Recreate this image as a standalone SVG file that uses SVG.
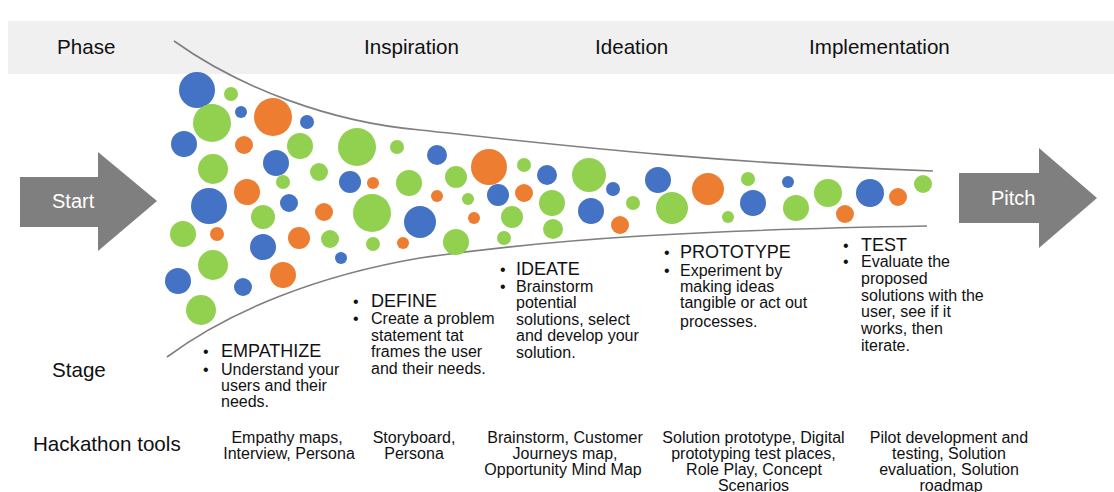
<svg xmlns="http://www.w3.org/2000/svg" width="1114" height="492" viewBox="0 0 1114 492">
<style>
.lbl{font-family:"Liberation Sans",Arial,sans-serif;font-size:20.6px;fill:#111}
.arrowtxt{font-family:"Liberation Sans",Arial,sans-serif;font-size:20px;fill:#ffffff}
.hd{font-family:"Liberation Sans",Arial,sans-serif;font-size:18px;fill:#111}
.bd{font-family:"Liberation Sans",Arial,sans-serif;font-size:16px;fill:#111}
.tool{font-family:"Liberation Sans",Arial,sans-serif;font-size:16px;fill:#111;text-anchor:middle}
.b{fill:#4472c4}.o{fill:#ed7d31}.g{fill:#92d050}
.curve{fill:none;stroke:#7f7f7f;stroke-width:1.6}
.arr{fill:#7f7f7f}
</style>
<rect width="1114" height="492" fill="#ffffff"/>
<g id="phase-band">
<rect x="8" y="21" width="1106" height="53" fill="#f0f0f0"/>
<text class="lbl" x="57" y="54">Phase</text>
<text class="lbl" x="364" y="54">Inspiration</text>
<text class="lbl" x="595" y="54">Ideation</text>
<text class="lbl" x="809" y="54">Implementation</text>
</g>
<g id="funnel">
<path class="curve" d="M174,41 C240,88 330,122 420,130 C560,145 700,162 933,171"/>
<path class="curve" d="M167,357 C230,310 320,275 420,258 C560,238 700,230 927,226"/>
</g>
<g id="circles">
<circle class="b" cx="197" cy="90" r="18"/>
<circle class="g" cx="231" cy="94" r="7"/>
<circle class="g" cx="212" cy="123" r="19"/>
<circle class="b" cx="241" cy="112" r="6"/>
<circle class="o" cx="273" cy="117" r="19"/>
<circle class="b" cx="307" cy="122" r="7"/>
<circle class="b" cx="184" cy="144" r="13"/>
<circle class="o" cx="244" cy="145" r="9"/>
<circle class="g" cx="300" cy="146" r="13"/>
<circle class="g" cx="357" cy="147" r="19"/>
<circle class="g" cx="397" cy="147" r="7"/>
<circle class="g" cx="213" cy="169" r="15"/>
<circle class="b" cx="276" cy="163" r="13"/>
<circle class="g" cx="319" cy="172" r="9"/>
<circle class="g" cx="283" cy="182" r="7"/>
<circle class="b" cx="350" cy="182" r="11"/>
<circle class="o" cx="373" cy="183" r="6"/>
<circle class="g" cx="409" cy="183" r="13"/>
<circle class="b" cx="209" cy="206" r="18"/>
<circle class="o" cx="247" cy="192" r="13"/>
<circle class="b" cx="289" cy="203" r="9"/>
<circle class="o" cx="324" cy="212" r="9"/>
<circle class="g" cx="372" cy="213" r="19"/>
<circle class="g" cx="263" cy="217" r="12"/>
<circle class="g" cx="183" cy="234" r="13"/>
<circle class="o" cx="217" cy="234" r="7"/>
<circle class="o" cx="299" cy="238" r="11"/>
<circle class="g" cx="330" cy="239" r="9"/>
<circle class="g" cx="373" cy="244" r="7"/>
<circle class="b" cx="263" cy="247" r="13"/>
<circle class="b" cx="341" cy="258" r="6"/>
<circle class="g" cx="213" cy="265" r="15"/>
<circle class="o" cx="283" cy="275" r="13"/>
<circle class="b" cx="178" cy="281" r="13"/>
<circle class="b" cx="243" cy="287" r="9"/>
<circle class="g" cx="201" cy="310" r="15"/>
<circle class="b" cx="437" cy="155" r="10"/>
<circle class="o" cx="489" cy="167" r="18"/>
<circle class="g" cx="524" cy="165" r="7"/>
<circle class="g" cx="456" cy="177" r="11"/>
<circle class="b" cx="547" cy="175" r="10"/>
<circle class="g" cx="589" cy="175" r="17"/>
<circle class="o" cx="437" cy="196" r="6"/>
<circle class="g" cx="468" cy="199" r="6"/>
<circle class="b" cx="498" cy="195" r="11"/>
<circle class="o" cx="524" cy="193" r="9"/>
<circle class="b" cx="613" cy="189" r="7"/>
<circle class="g" cx="552" cy="203" r="13"/>
<circle class="g" cx="633" cy="203" r="7"/>
<circle class="b" cx="658" cy="180" r="13"/>
<circle class="o" cx="708" cy="189" r="16"/>
<circle class="g" cx="748" cy="179" r="7"/>
<circle class="b" cx="788" cy="182" r="6"/>
<circle class="g" cx="672" cy="208" r="16"/>
<circle class="b" cx="753" cy="203" r="13"/>
<circle class="g" cx="796" cy="208" r="13"/>
<circle class="b" cx="420" cy="222" r="16"/>
<circle class="o" cx="474" cy="218" r="6"/>
<circle class="g" cx="512" cy="217" r="11"/>
<circle class="b" cx="591" cy="211" r="13"/>
<circle class="g" cx="728" cy="217" r="6"/>
<circle class="o" cx="620" cy="225" r="9"/>
<circle class="o" cx="403" cy="243" r="6"/>
<circle class="g" cx="456" cy="242" r="13"/>
<circle class="g" cx="504" cy="238" r="7"/>
<circle class="g" cx="553" cy="229" r="10"/>
<circle class="g" cx="828" cy="193" r="14"/>
<circle class="o" cx="845" cy="214" r="9"/>
<circle class="b" cx="870" cy="193" r="14"/>
<circle class="o" cx="898" cy="197" r="9"/>
<circle class="g" cx="923" cy="184" r="9"/>
</g>
<g id="start">
<polygon class="arr" points="20,177 98,177 98,152 157,201 98,251 98,227 20,227"/>
<text class="arrowtxt" x="52" y="208">Start</text>
</g>
<g id="pitch">
<polygon class="arr" points="959,173 1039,173 1039,148 1097,198 1039,248 1039,223 959,223"/>
<text class="arrowtxt" x="991" y="205">Pitch</text>
</g>
<g id="stage-label">
<text class="lbl" x="52" y="377">Stage</text>
</g>
<g id="empathize">
<text class="bd" x="203" y="357">•</text>
<text class="hd" x="221" y="357">EMPATHIZE</text>
<text class="bd" x="203" y="375">•</text>
<text class="bd" x="221" y="375">Understand your</text>
<text class="bd" x="221" y="391">users and their</text>
<text class="bd" x="221" y="407">needs.</text>
</g>
<g id="define">
<text class="bd" x="353" y="307">•</text>
<text class="hd" x="371" y="307">DEFINE</text>
<text class="bd" x="353" y="324">•</text>
<text class="bd" x="371" y="324">Create a problem</text>
<text class="bd" x="371" y="341">statement tat</text>
<text class="bd" x="371" y="357">frames the user</text>
<text class="bd" x="371" y="374">and their needs.</text>
</g>
<g id="ideate">
<text class="bd" x="500" y="275">•</text>
<text class="hd" x="516" y="275">IDEATE</text>
<text class="bd" x="500" y="292">•</text>
<text class="bd" x="516" y="292">Brainstorm</text>
<text class="bd" x="516" y="308">potential</text>
<text class="bd" x="516" y="325">solutions, select</text>
<text class="bd" x="516" y="341">and develop your</text>
<text class="bd" x="516" y="358">solution.</text>
</g>
<g id="prototype">
<text class="bd" x="664" y="258">•</text>
<text class="hd" x="680" y="258">PROTOTYPE</text>
<text class="bd" x="664" y="276">•</text>
<text class="bd" x="680" y="276">Experiment by</text>
<text class="bd" x="680" y="292">making ideas</text>
<text class="bd" x="680" y="308">tangible or act out</text>
<text class="bd" x="680" y="327">processes.</text>
</g>
<g id="test">
<text class="bd" x="843" y="251">•</text>
<text class="hd" x="861" y="251">TEST</text>
<text class="bd" x="843" y="267">•</text>
<text class="bd" x="861" y="267">Evaluate the</text>
<text class="bd" x="861" y="284">proposed</text>
<text class="bd" x="861" y="301">solutions with the</text>
<text class="bd" x="861" y="317">user, see if it</text>
<text class="bd" x="861" y="334">works, then</text>
<text class="bd" x="861" y="351">iterate.</text>
</g>
<g id="tools-label">
<text class="lbl" x="33" y="451">Hackathon tools</text>
</g>
<g id="tools-empathize">
<text class="tool" x="287" y="443">Empathy maps,</text>
<text class="tool" x="289" y="459">Interview, Persona</text>
</g>
<g id="tools-define">
<text class="tool" x="414" y="443">Storyboard,</text>
<text class="tool" x="414" y="459">Persona</text>
</g>
<g id="tools-ideate">
<text class="tool" x="565" y="443">Brainstorm, Customer</text>
<text class="tool" x="565" y="459">Journeys map,</text>
<text class="tool" x="563" y="475">Opportunity Mind Map</text>
</g>
<g id="tools-prototype">
<text class="tool" x="753.5" y="443">Solution prototype, Digital</text>
<text class="tool" x="753.5" y="459">prototyping test places,</text>
<text class="tool" x="754" y="475">Role Play, Concept</text>
<text class="tool" x="753.5" y="491">Scenarios</text>
</g>
<g id="tools-test">
<text class="tool" x="949" y="443">Pilot development and</text>
<text class="tool" x="949" y="459">testing, Solution</text>
<text class="tool" x="949" y="475">evaluation, Solution</text>
<text class="tool" x="951" y="491">roadmap</text>
</g>
</svg>
